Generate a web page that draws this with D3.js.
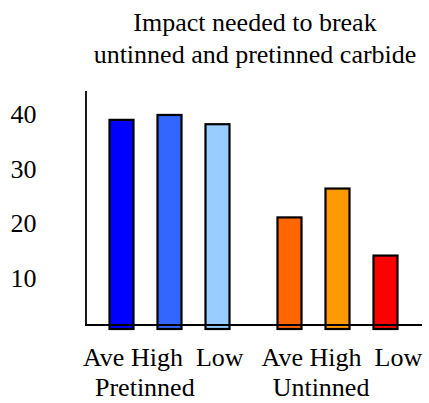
<!DOCTYPE html>
<html>
<head>
<meta charset="utf-8">
<script src="https://cdnjs.cloudflare.com/ajax/libs/d3/7.8.5/d3.min.js"></script>
</head>
<body style="margin:0;background:#fff">
<div id="chart"></div>
<script>
// data
var groups = ["Pretinned", "Untinned"]
var categories = ["Ave", "High", "Low"]
var pretinned = [39.2, 40.1, 38.4]
var untinned = [21.3, 26.6, 14.3]
var colors = {
    Pretinned: ["#0000ff", "#3366ff", "#99ccff"],
    Untinned: ["#ff6600", "#ff9900", "#ff0000"]
}
var yTicks = [10, 20, 30, 40]
var titleLines = ["Impact needed to break", "untinned and pretinned carbide"]

var width = 429, height = 403
var fontSize = 26

var svg = d3.select('#chart')
    .append('svg')
    .attr('width', width)
    .attr('height', height)

function label(sel) {
    return sel.attr('font-size', fontSize)
        .style('font-family', function() { return '"Liberation Serif"' })
}

var y = d3.scaleLinear().domain([0, 40]).range([332.5, 114.5])

var x0 = d3.scaleBand().domain(groups).range([97.5, 409.5]).paddingInner(24 / 168)
var x1 = d3.scaleBand().domain(categories).range([0, x0.bandwidth()])
    .paddingInner(22 / 48).paddingOuter(11 / 48)

var rows = []
groups.forEach(function(g) {
    var vals = g === "Pretinned" ? pretinned : untinned
    categories.forEach(function(c, i) {
        rows.push({ group: g, cat: c, value: vals[i], color: colors[g][i] })
    })
})

var axisY = 325, barBottom = 329

// bars
svg.selectAll('rect.bar')
    .data(rows)
    .enter()
    .append('rect')
    .attr('class', 'bar')
    .attr('x', function(d) { return x0(d.group) + x1(d.cat) + 1 })
    .attr('y', function(d) { return y(d.value) + 1 })
    .attr('width', x1.bandwidth() - 2)
    .attr('height', function(d) { return barBottom - y(d.value) - 1 })
    .attr('fill', function(d) { return d.color })
    .attr('stroke', '#000')
    .attr('stroke-width', 2.2)

// axes lines
svg.append('line')
    .attr('x1', 86).attr('x2', 86)
    .attr('y1', 91).attr('y2', axisY)
    .attr('stroke', '#000').attr('stroke-width', 1.8)
svg.append('line')
    .attr('x1', 85).attr('x2', 422)
    .attr('y1', axisY).attr('y2', axisY)
    .attr('stroke', '#000').attr('stroke-width', 1.8)

// y tick labels
svg.selectAll('text.ytick')
    .data(yTicks)
    .enter()
    .append('text')
    .attr('class', 'ytick')
    .attr('x', 36.5)
    .attr('y', function(d) { return y(d) + 8.5 })
    .attr('text-anchor', 'end')
    .call(label)
    .text(function(d) { return d })

// title
svg.selectAll('text.title')
    .data(titleLines)
    .enter()
    .append('text')
    .attr('class', 'title')
    .attr('x', 255)
    .attr('y', function(d, i) { return 31 + i * 32 })
    .attr('text-anchor', 'middle')
    .call(label)
    .text(function(d) { return d })

// category labels, laid out as one line like the original text box
var catLine = categories.join(" ").replace("High Low", "High  Low")
svg.append('text')
    .attr('x', 83)
    .attr('y', 366)
    .call(label)
    .style('white-space', 'pre')
    .text(catLine + "   " + catLine)

svg.append('text')
    .attr('x', 95)
    .attr('y', 396)
    .call(label)
    .style('white-space', 'pre')
    .text(groups.join("            "))
</script>
</body>
</html>
